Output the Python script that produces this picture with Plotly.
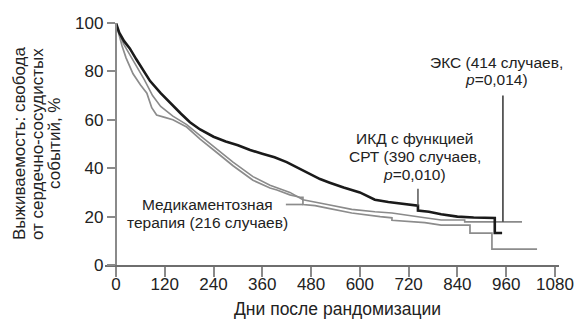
import plotly.graph_objects as go

# Kaplan-Meier survival free of cardiovascular events (%), days after randomization
icd_days = [0, 8, 20, 34, 50, 65, 84, 110, 133, 160, 182, 207, 240, 270, 300, 330, 360,
            390, 420, 450, 480, 502, 526, 560, 600, 637, 670, 700, 743, 743, 770, 800,
            840, 880, 932, 932, 950]
icd_surv = [100, 96, 92.5, 89.5, 85, 81, 76, 71, 67, 62.5, 59, 56, 53, 51, 49.5, 47.5, 46,
            44.5, 42.5, 40, 37.5, 35.5, 34, 32, 30, 27, 26, 25.5, 24.5, 22.5, 22, 21,
            20, 19.6, 19.4, 13.2, 13.2]

eks_days = [0, 8, 20, 34, 50, 70, 90, 110, 140, 174, 207, 248, 288, 337, 379, 428, 460,
            520, 580, 637, 679, 760, 800, 858, 858, 999]
eks_surv = [100, 95.5, 91, 87, 82, 76.5, 70, 65.5, 61.5, 58, 53.5, 48, 42.5, 36.5, 33, 30,
            27, 25, 23, 22, 21.5, 19.5, 18.6, 18.6, 17.8, 17.8]

med_days = [0, 6, 15, 25, 42, 60, 76, 88, 100, 120, 140, 174, 207, 248, 288, 337, 379,
            396, 428, 453, 460, 460, 490, 520, 580, 650, 679, 679, 760, 800, 871, 871,
            925, 925, 1036]
med_surv = [100, 96, 90.5, 85.5, 79, 74.5, 71, 65, 62, 61, 60, 57, 52, 46.5, 41, 35, 31.8,
            31, 29, 28, 28, 25, 24.5, 23.5, 21.5, 20, 19.5, 18.5, 17.5, 16.5, 16.5, 13.2,
            13.2, 6.6, 6.6]

x_ticks = [0, 120, 240, 360, 480, 600, 720, 840, 960, 1080]
y_ticks = [0, 20, 40, 60, 80, 100]

x_title = "Дни после рандомизации"
y_title_lines = ["Выживаемость: свобода", "от сердечно-сосудистых", "событий, %"]
med_label = ["Медикаментозная", "терапия (216 случаев)"]
icd_label = ["ИКД с функцией", "СРТ (390 случаев,", "<i>p</i>=0,010)"]
eks_label = ["ЭКС (414 случаев,", "<i>p</i>=0,014)"]

FONT = "Liberation Sans, Arial, sans-serif"
TXT = "#222222"
AX = "#6e6e6e"

X0, X1 = -27, 1090
L, R, T, B = 105, 18, 23, 58
W, H = 577, 323
pw, ph = W - L - R, H - T - B


def px_to_paper_x(px):
    return (px - L) / pw


def px_to_paper_y(py):
    return (H - B - py) / ph


fig = go.Figure()
fig.add_trace(go.Scatter(x=med_days, y=med_surv, mode="lines",
                         line=dict(color="#8c8c8c", width=1.7), hoverinfo="skip"))
fig.add_trace(go.Scatter(x=eks_days, y=eks_surv, mode="lines",
                         line=dict(color="#8a8a8a", width=1.6), hoverinfo="skip"))
fig.add_trace(go.Scatter(x=icd_days, y=icd_surv, mode="lines",
                         line=dict(color="#1a1a1a", width=2.6), hoverinfo="skip"))

annotations = []
# rotated y-axis title, one line per annotation
for px, line in zip([19, 37, 54], y_title_lines):
    annotations.append(dict(x=px_to_paper_x(px), y=px_to_paper_y(144), xref="paper",
                            yref="paper", text=line, showarrow=False, textangle=-90,
                            font=dict(family=FONT, size=17, color=TXT),
                            xanchor="center", yanchor="middle"))

# x-axis title
annotations.append(dict(x=px_to_paper_x(337), y=px_to_paper_y(309), xref="paper",
                        yref="paper", text=x_title, showarrow=False,
                        font=dict(family=FONT, size=17.5, color=TXT),
                        xanchor="center", yanchor="middle"))


def add_label(lines, day, top_value, step):
    for i, line in enumerate(lines):
        annotations.append(dict(x=day, y=top_value - i * step, xref="x", yref="y",
                                text=line, showarrow=False,
                                font=dict(family=FONT, size=15.5, color=TXT),
                                xanchor="center", yanchor="middle"))


add_label(med_label, 224, 24.8, 7.4)
add_label(icd_label, 735, 52.3, 7.4)
add_label(eks_label, 937, 83.5, 7.0)

shapes = [
    dict(type="line", xref="x", yref="y", x0=418, x1=460, y0=25, y1=25,
         line=dict(color="#8c8c8c", width=1.7)),
    dict(type="line", xref="x", yref="y", x0=743, x1=743, y0=31.5, y1=24.5,
         line=dict(color="#555555", width=1.5)),
    dict(type="line", xref="x", yref="y", x0=952, x1=952, y0=70, y1=17.8,
         line=dict(color="#555555", width=1.8)),
]

fig.update_layout(
    width=W, height=H, margin=dict(l=L, r=R, t=T, b=B, autoexpand=False),
    paper_bgcolor="white", plot_bgcolor="white", showlegend=False,
    font=dict(family=FONT, color=TXT),
    annotations=annotations, shapes=shapes,
    xaxis=dict(range=[X0, X1], tickvals=x_ticks, ticktext=[str(v) for v in x_ticks],
               automargin=False,
               showgrid=False, zeroline=False, showline=True, linecolor=AX, linewidth=2.2,
               ticks="outside", ticklen=10, tickwidth=2, tickcolor="#8a8a8a",
               ticklabelstandoff=-8,
               tickfont=dict(family=FONT, size=17, color=TXT)),
    yaxis=dict(range=[0, 100], tickvals=y_ticks, anchor="free",
               position=(0 - X0) / (X1 - X0), automargin=False,
               showgrid=False, zeroline=False, showline=True, linecolor="#8a8a8a",
               linewidth=2.4, ticks="outside", ticklen=8, tickwidth=2, tickcolor="#8a8a8a",
               tickfont=dict(family=FONT, size=17, color=TXT)),
)

fig.write_html("out.html")
